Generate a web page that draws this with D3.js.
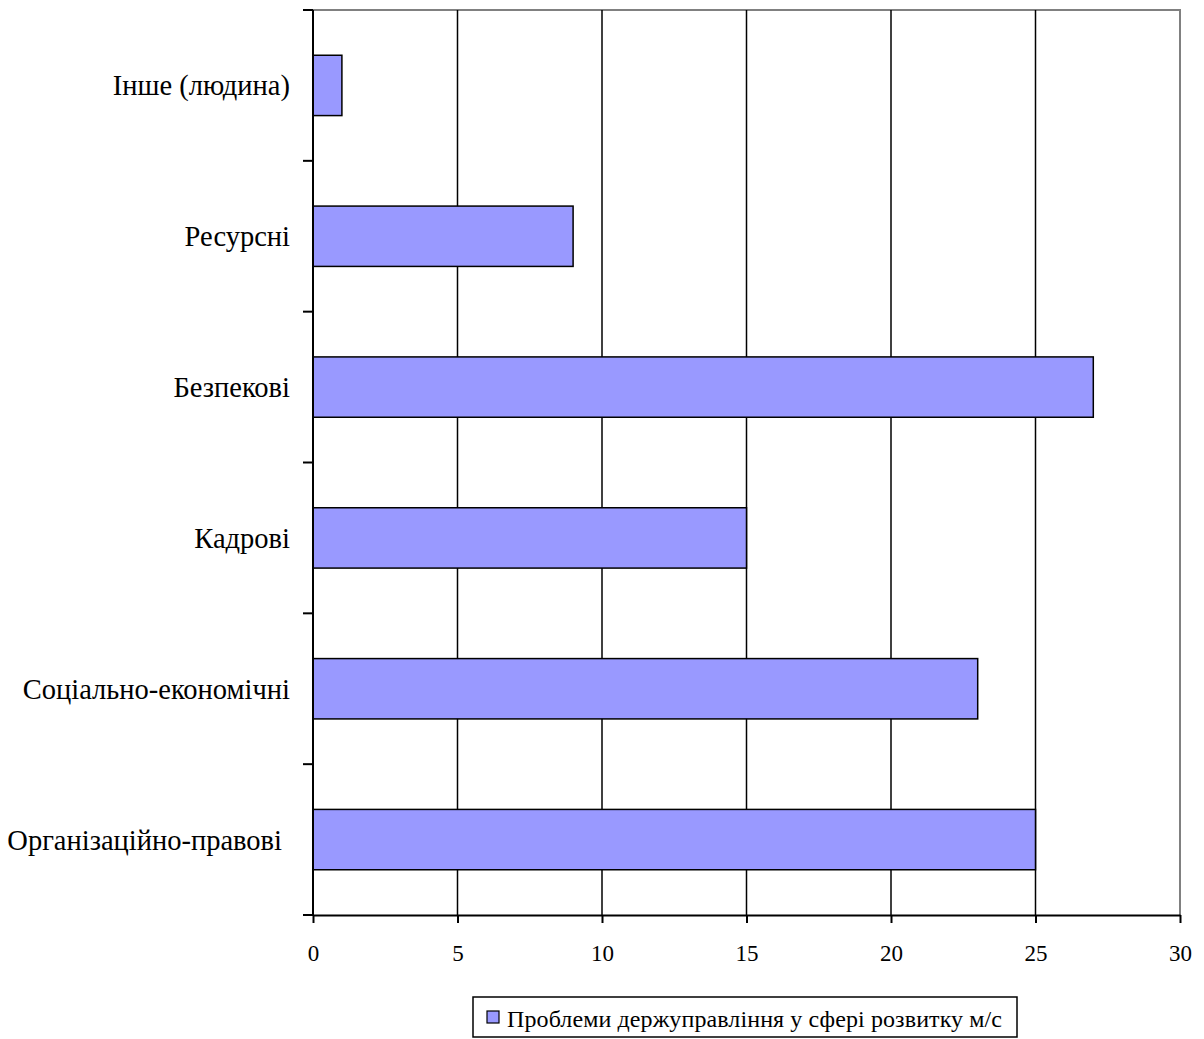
<!DOCTYPE html>
<html>
<head>
<meta charset="utf-8">
<script src="https://cdn.jsdelivr.net/npm/d3@7"></script>
<style>
  html, body { margin: 0; padding: 0; background: #fff; font-family: "Liberation Serif", serif; }
  svg text { font-family: "Liberation Serif", serif; }
</style>
</head>
<body>
<svg id="chart" width="1204" height="1039" font-family="Liberation Serif"></svg>
<script>
// Categories listed bottom-to-top as they appear on the vertical axis
const categories = [
  "Організаційно-правові",
  "Соціально-економічні",
  "Кадрові",
  "Безпекові",
  "Ресурсні",
  "Інше (людина)"
];
const values = [25, 23, 15, 27, 9, 1];
const xTicks = [0, 5, 10, 15, 20, 25, 30];
const seriesName = "Проблеми держуправління у сфері розвитку м/с";

const FONT = "Liberation Serif";
const svg = d3.select("#chart");

function draw() {
  svg.selectAll("*").remove();
  const plot = { left: 313, right: 1180, top: 10, bottom: 915 };

  const x = d3.scaleLinear().domain([0, 30]).range([plot.left, plot.right]);
  const y = d3.scaleBand()
    .domain(categories)
    .range([plot.bottom, plot.top])
    .paddingInner(0.6)
    .paddingOuter(0.3);

  // Plot frame: grey top and right edges
  svg.append("path")
    .attr("d", `M${plot.left},${plot.top}H${plot.right}V${plot.bottom}`)
    .attr("fill", "none")
    .attr("stroke", "#808080")
    .attr("stroke-width", 2);

  // Vertical gridlines
  svg.append("g")
    .selectAll("line")
    .data(xTicks.filter(t => t > 0 && t < 30))
    .join("line")
    .attr("x1", d => x(d)).attr("x2", d => x(d))
    .attr("y1", plot.top).attr("y2", plot.bottom)
    .attr("stroke", "#000")
    .attr("stroke-width", 1.5);

  // Bars
  svg.append("g")
    .selectAll("rect")
    .data(categories.map((c, i) => ({ c, v: values[i] })))
    .join("rect")
    .attr("x", x(0))
    .attr("y", d => y(d.c))
    .attr("width", d => x(d.v) - x(0))
    .attr("height", y.bandwidth())
    .attr("fill", "#9999ff")
    .attr("stroke", "#000")
    .attr("stroke-width", 1.5);

  // X axis
  const xAxis = svg.append("g")
    .attr("transform", `translate(0,${plot.bottom})`)
    .call(d3.axisBottom(x).tickValues(xTicks).tickSize(8).tickPadding(22).tickSizeOuter(0))
    .attr("font-family", FONT)
    .attr("font-size", 23);
  xAxis.select(".domain").attr("stroke", "#000").attr("stroke-width", 2);
  xAxis.selectAll(".tick line").attr("stroke", "#000").attr("stroke-width", 2);
  xAxis.selectAll("text").attr("fill", "#000").attr("font-family", FONT);

  // Y axis: ticks sit on the boundaries between categories
  const step = (plot.bottom - plot.top) / categories.length;
  const yAxis = svg.append("g");
  yAxis.append("line")
    .attr("x1", plot.left).attr("x2", plot.left)
    .attr("y1", plot.top).attr("y2", plot.bottom)
    .attr("stroke", "#000").attr("stroke-width", 2);
  yAxis.selectAll("line.tk")
    .data(d3.range(categories.length + 1))
    .join("line")
    .attr("class", "tk")
    .attr("x1", plot.left - 10).attr("x2", plot.left)
    .attr("y1", i => plot.bottom - i * step)
    .attr("y2", i => plot.bottom - i * step)
    .attr("stroke", "#000").attr("stroke-width", 2);

  yAxis.selectAll("text")
    .data(categories)
    .join("text")
    .attr("x", d => d === "Організаційно-правові" ? 282 : 290)
    .attr("y", d => y(d) + y.bandwidth() / 2)
    .attr("dy", "0.35em")
    .attr("text-anchor", "end")
    .attr("fill", "#000")
    .attr("font-family", FONT)
    .attr("font-size", 28.5)
    .text(d => d);

  // Legend
  const legend = svg.append("g");
  legend.append("rect")
    .attr("x", 473).attr("y", 997).attr("width", 544).attr("height", 40)
    .attr("fill", "#fff").attr("stroke", "#000").attr("stroke-width", 1.5);
  legend.append("rect")
    .attr("x", 487).attr("y", 1011).attr("width", 12).attr("height", 12)
    .attr("fill", "#9999ff").attr("stroke", "#000").attr("stroke-width", 1.2);
  legend.append("text")
    .attr("x", 507).attr("y", 1027)
    .attr("fill", "#000")
    .attr("textLength", 495)
    .attr("lengthAdjust", "spacing")
    .attr("font-family", FONT)
    .attr("font-size", 24)
    .text(seriesName);
}

draw();
// Redraw once the serif face is ready so text metrics use it
if (document.fonts && document.fonts.load) {
  document.fonts.load("28px 'Liberation Serif'", "Організаційно").then(draw);
}
</script>
</body>
</html>
